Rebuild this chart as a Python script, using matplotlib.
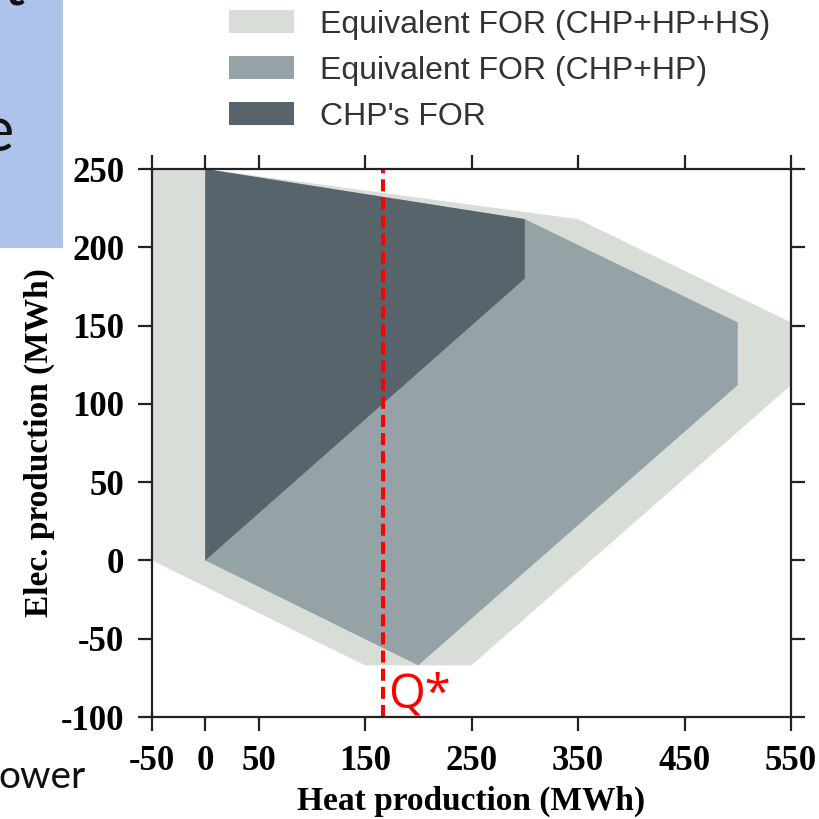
import matplotlib
matplotlib.use("Agg")
import matplotlib.pyplot as plt
from matplotlib.patches import Polygon, Patch, Rectangle

plt.rcParams["axes.unicode_minus"] = False

# ---- data (MWh) ----
hs_heat = [-50, 0, 350, 550, 550, 250, 150, -50]
hs_elec = [250, 250, 218, 152, 112, -67, -67, 0]
hp_heat = [0, 0, 300, 500, 500, 200]
hp_elec = [0, 250, 218, 152, 112, -67]
chp_heat = [0, 0, 300, 300]
chp_elec = [0, 250, 218, 180]
q_star = 167
labels = ["Equivalent FOR (CHP+HP+HS)", "Equivalent FOR (CHP+HP)", "CHP's FOR"]
xticks = [-50, 0, 50, 150, 250, 350, 450, 550]
yticks = [-100, -50, 0, 50, 100, 150, 200, 250]

c_light = "#d8ddd8"
c_mid = "#95a3a7"
c_dark = "#58646b"

W = 819
fig = plt.figure(figsize=(8.19, 8.19), dpi=100)
fig.patch.set_facecolor("white")

# slide fragment: blue box and cut-off slide text
fig.patches.append(Rectangle((0, 1 - 248 / W), 63 / W, 248 / W, transform=fig.transFigure,
                             facecolor="#aec3ea", edgecolor="none", zorder=0))
fig.text(26 / W, 1 - 6 / W, "rt", ha="right", va="baseline", fontsize=44,
         family="Lato", color="#111111")
fig.text(14 / W, 1 - 151 / W, "e", ha="right", va="baseline", fontsize=44,
         family="Lato", color="#111111")
fig.text(-2 / W, 1 - 788 / W, "ower", ha="left", va="baseline", fontsize=28,
         family="Lato", color="#111111")

ax = fig.add_axes([152 / W, 1 - 717 / W, (791 - 152) / W, (717 - 169) / W])
ax.add_patch(Polygon(list(zip(hs_heat, hs_elec)), closed=True, facecolor=c_light, edgecolor="none"))
ax.add_patch(Polygon(list(zip(hp_heat, hp_elec)), closed=True, facecolor=c_mid, edgecolor="none"))
ax.add_patch(Polygon(list(zip(chp_heat, chp_elec)), closed=True, facecolor=c_dark, edgecolor="none"))
ax.axvline(q_star, color="red", lw=2.9, ls=(0, (3, 1.5)))
ax.text(q_star + 5, -94, "Q*", color="red", fontsize=34, family="Open Sans",
        ha="left", va="baseline")

ax.set_xlim(-50, 550)
ax.set_ylim(-100, 250)
ax.set_xticks(xticks)
ax.set_yticks(yticks)
for s in ax.spines.values():
    s.set_color("#222222")
    s.set_linewidth(1.6)
ax.tick_params(direction="out", length=10, width=1.6, color="#222222",
               top=True, right=True, labelsize=25)
ax.tick_params(axis="x", pad=10)
ax.tick_params(axis="y", pad=10)
for lab in ax.get_xticklabels() + ax.get_yticklabels():
    lab.set_fontfamily("Liberation Serif")
    lab.set_fontweight("bold")

ax.set_xlabel("Heat production (MWh)", fontsize=24, fontweight="bold",
              family="Liberation Serif", labelpad=6)
ax.set_ylabel("Elec. production (MWh)", fontsize=24, fontweight="bold",
              family="Liberation Serif", labelpad=4)

handles = [Patch(facecolor=c, edgecolor="none") for c in (c_light, c_mid, c_dark)]
fig.legend(handles, labels, loc="upper left", bbox_to_anchor=(229 / W, 1 - 10 / W),
           frameon=False, handlelength=2.04, handleheight=0.72,
           handletextpad=0.8, labelspacing=0.5, borderpad=0, borderaxespad=0,
           prop={"family": "Liberation Sans", "size": 23}, labelcolor="#333333")

fig.savefig("out.png", dpi=100)
